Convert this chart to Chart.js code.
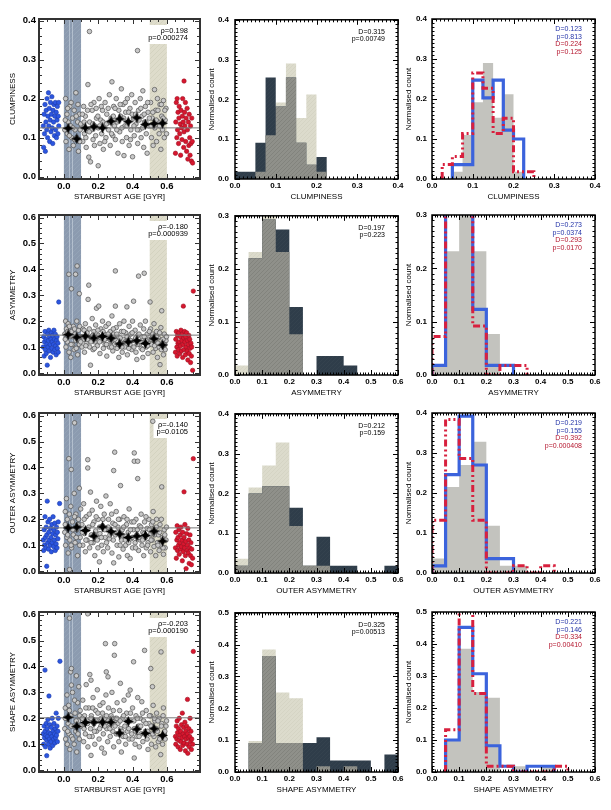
<!DOCTYPE html>
<html>
<head>
<meta charset="utf-8">
<script src="https://cdn.jsdelivr.net/npm/chart.js@4.4.0/dist/chart.umd.min.js"></script>
<style>
  body { margin: 0; background: #fff; width: 611px; height: 810px; position: relative; overflow: hidden; }
  canvas { position: absolute; }
</style>
</head>
<body>
<script>
// ---- shared axis data ----
const ageRange = [-0.145, 0.793];
const ageTicks = [0.0, 0.2, 0.4, 0.6];
const ageBins = [0.025, 0.075, 0.125, 0.175, 0.225, 0.275, 0.325, 0.375, 0.425, 0.475, 0.525, 0.575];
const youngBand = [0.0, 0.1];
const oldBand = [0.5, 0.6];
const youngLines = [0.03, 0.045];
const ticks03 = [0, 0.1, 0.2, 0.3];
const ticks04 = [0, 0.1, 0.2, 0.3, 0.4];
const ticks05 = [0, 0.1, 0.2, 0.3, 0.4, 0.5];
const ticks06 = [0, 0.1, 0.2, 0.3, 0.4, 0.5, 0.6];
const clumpEdges = [0, 0.025, 0.05, 0.075, 0.1, 0.125, 0.15, 0.175, 0.2, 0.225, 0.25];
const asymEdges = [0, 0.05, 0.1, 0.15, 0.2, 0.25, 0.3, 0.35, 0.4, 0.45, 0.5, 0.55, 0.6];

// ---- clumpiness ----
const clumpGrey = [[0.005,0.12],[0.01,0.2],[0.012,0.09],[0.018,0.16],[0.02,0.11],[0.025,0.14],[0.03,0.07],[0.035,0.18],[0.04,0.13],[0.045,0.1],[0.05,0.15],[0.055,0.08],[0.06,0.17],[0.065,0.12],[0.07,0.215],[0.075,0.1],[0.08,0.14],[0.085,0.065],[0.09,0.16],[0.095,0.12],
[0.105,0.13],[0.11,0.09],[0.115,0.18],[0.12,0.11],[0.125,0.155],[0.13,0.075],[0.14,0.236],[0.145,0.05],[0.149,0.372],[0.15,0.14],[0.155,0.038],[0.16,0.12],[0.165,0.17],[0.17,0.095],[0.175,0.19],[0.18,0.13],[0.185,0.105],[0.19,0.15],[0.2,0.028],[0.2,0.125],[0.205,0.2],[0.21,0.085],[0.215,0.145],[0.22,0.11],[0.225,0.17],[0.23,0.07],[0.235,0.135],[0.24,0.19],[0.245,0.1],[0.25,0.16],
[0.26,0.12],[0.265,0.21],[0.27,0.08],[0.275,0.15],[0.28,0.243],[0.285,0.105],[0.29,0.18],[0.295,0.13],[0.3,0.095],[0.305,0.2],[0.31,0.14],[0.315,0.06],[0.32,0.17],[0.325,0.115],[0.33,0.155],[0.335,0.225],[0.34,0.09],[0.345,0.185],[0.35,0.054],[0.355,0.13],[0.36,0.165],[0.365,0.1],[0.37,0.2],[0.375,0.14],[0.38,0.08],[0.385,0.175],[0.39,0.12],[0.395,0.21],[0.4,0.051],[0.405,0.15],[0.41,0.105],[0.415,0.19],[0.42,0.135],[0.429,0.323],[0.43,0.085],[0.435,0.17],[0.44,0.12],[0.445,0.2],[0.45,0.1],[0.455,0.155],[0.46,0.22],[0.465,0.075],[0.47,0.14],[0.475,0.18],[0.48,0.11],[0.485,0.06],[0.49,0.165],[0.495,0.13],
[0.505,0.19],[0.51,0.1],[0.515,0.15],[0.52,0.08],[0.528,0.223],[0.53,0.125],[0.535,0.17],[0.54,0.09],[0.545,0.2],[0.55,0.14],[0.555,0.11],[0.56,0.185],[0.565,0.07],[0.57,0.155],[0.575,0.12],[0.58,0.195],[0.585,0.1],[0.59,0.145],[0.595,0.175],
[0.008,0.145],[0.022,0.175],[0.032,0.105],[0.042,0.19],[0.052,0.125],[0.062,0.095],[0.072,0.155],[0.082,0.185],[0.092,0.09],[0.098,0.135],[0.108,0.16],[0.118,0.14],[0.128,0.1],[0.138,0.17],[0.148,0.115],[0.158,0.185],[0.168,0.135],[0.178,0.08],[0.188,0.175],[0.198,0.155],[0.208,0.13],[0.218,0.18],[0.228,0.14],[0.238,0.09],[0.248,0.135],[0.258,0.175],[0.268,0.14],[0.278,0.11],[0.288,0.155],[0.298,0.175],[0.308,0.12],[0.318,0.145],[0.328,0.185],[0.338,0.125],[0.348,0.15],[0.358,0.19],[0.368,0.13],[0.378,0.165],[0.388,0.095],[0.398,0.16],[0.408,0.13],[0.418,0.16],[0.428,0.12],[0.438,0.145],[0.448,0.175],[0.458,0.125],[0.468,0.16],[0.478,0.14],[0.488,0.19],[0.498,0.15],[0.508,0.13],[0.518,0.165],[0.538,0.145],[0.548,0.17],[0.558,0.13],[0.568,0.185],[0.578,0.15],[0.588,0.17],[0.598,0.11]];
const clumpBlue = [[-0.12,0.13],[-0.118,0.075],[-0.115,0.16],[-0.113,0.11],[-0.11,0.185],[-0.108,0.065],[-0.105,0.14],[-0.103,0.17],[-0.1,0.12],[-0.098,0.2],[-0.095,0.1],[-0.093,0.155],[-0.09,0.215],[-0.088,0.13],[-0.085,0.175],[-0.083,0.09],[-0.08,0.145],[-0.078,0.19],[-0.075,0.115],[-0.073,0.16],[-0.07,0.205],[-0.068,0.125],[-0.065,0.085],[-0.063,0.17],[-0.06,0.14],[-0.058,0.185],[-0.055,0.105],[-0.053,0.155],[-0.05,0.19],[-0.048,0.12],[-0.045,0.165],[-0.043,0.1],[-0.04,0.145],[-0.038,0.18],[-0.035,0.11],[-0.033,0.155],[-0.03,0.19],[-0.03,0.13]];
const clumpRed = [[0.65,0.06],[0.652,0.14],[0.655,0.19],[0.658,0.1],[0.66,0.2],[0.662,0.12],[0.665,0.165],[0.668,0.085],[0.67,0.15],[0.672,0.18],[0.675,0.11],[0.678,0.135],[0.68,0.055],[0.682,0.17],[0.685,0.125],[0.688,0.095],[0.69,0.155],[0.692,0.2],[0.695,0.14],[0.698,0.075],[0.7,0.245],[0.7,0.115],[0.703,0.165],[0.705,0.13],[0.708,0.19],[0.71,0.09],[0.712,0.15],[0.715,0.065],[0.718,0.175],[0.72,0.12],[0.722,0.045],[0.725,0.14],[0.728,0.08],[0.73,0.16],[0.733,0.1],[0.735,0.055],[0.738,0.13],[0.74,0.085],[0.743,0.04],[0.745,0.15],[0.748,0.09],[0.75,0.035]];
const clumpMedian = [0.124, 0.097, 0.125, 0.128, 0.125, 0.142, 0.148, 0.141, 0.151, 0.134, 0.136, 0.137];
const clumpMean = 0.125;
const clumpCorr = ['\u03c1=0.198', 'p=0.000274'];
const clumpDark = [0.018, 0.018, 0.091, 0.255, 0.182, 0.255, 0.091, 0.036, 0.055, 0];
const clumpBeige = [0, 0, 0.018, 0.11, 0.192, 0.29, 0.153, 0.212, 0.018, 0];
const clumpKS = ['D=0.315', 'p=0.00749'];
const clumpHistBlue = [0, 0, 0.036, 0.036, 0.247, 0.203, 0.247, 0.122, 0.1, 0];
const clumpHistRed = [0, 0.036, 0.056, 0.114, 0.265, 0.227, 0.114, 0.152, 0.018, 0.018];
const clumpKS3 = ['D=0.123', 'p=0.813', 'D=0.224', 'p=0.125'];

// ---- asymmetry ----
const asymGrey = [[0.005,0.15],[0.01,0.2],[0.012,0.1],[0.015,0.17],[0.02,0.12],[0.025,0.19],[0.029,0.381],[0.03,0.08],[0.035,0.14],[0.04,0.06],[0.044,0.325],[0.045,0.16],[0.05,0.11],[0.055,0.18],[0.06,0.09],[0.065,0.15],[0.068,0.381],[0.07,0.125],[0.075,0.2],[0.077,0.413],[0.08,0.07],[0.085,0.165],[0.09,0.306],[0.09,0.11],[0.095,0.14],
[0.105,0.1],[0.11,0.17],[0.115,0.13],[0.12,0.08],[0.125,0.19],[0.13,0.115],[0.135,0.155],[0.141,0.284],[0.145,0.339],[0.15,0.1],[0.155,0.03],[0.16,0.14],[0.165,0.21],[0.17,0.09],[0.175,0.16],[0.18,0.12],[0.185,0.185],[0.19,0.25],[0.195,0.105],[0.2,0.145],[0.203,0.258],[0.21,0.075],[0.215,0.17],[0.22,0.125],[0.225,0.2],[0.23,0.095],[0.235,0.15],[0.24,0.11],[0.245,0.18],[0.25,0.065],
[0.255,0.135],[0.26,0.19],[0.265,0.1],[0.27,0.16],[0.275,0.12],[0.28,0.22],[0.285,0.085],[0.29,0.15],[0.295,0.11],[0.3,0.394],[0.3,0.258],[0.305,0.175],[0.31,0.095],[0.315,0.14],[0.32,0.06],[0.325,0.19],[0.33,0.12],[0.335,0.16],[0.34,0.08],[0.345,0.13],[0.35,0.2],[0.355,0.1],[0.36,0.155],[0.367,0.255],[0.37,0.07],[0.375,0.135],[0.38,0.18],[0.385,0.11],[0.39,0.15],[0.395,0.09],[0.4,0.2],[0.406,0.277],[0.41,0.125],[0.415,0.165],[0.42,0.08],[0.425,0.052],[0.43,0.145],[0.435,0.374],[0.44,0.11],[0.445,0.185],[0.45,0.095],[0.455,0.14],[0.46,0.06],[0.465,0.17],[0.468,0.385],[0.47,0.12],[0.475,0.2],[0.48,0.1],[0.485,0.15],[0.49,0.075],[0.495,0.13],
[0.502,0.274],[0.505,0.17],[0.51,0.11],[0.515,0.145],[0.52,0.08],[0.525,0.19],[0.53,0.125],[0.535,0.095],[0.54,0.16],[0.545,0.06],[0.55,0.135],[0.555,0.1],[0.56,0.032],[0.565,0.175],[0.57,0.24],[0.575,0.115],[0.58,0.07],[0.585,0.15],[0.59,0.09],[0.595,0.125],
[0.008,0.13],[0.022,0.16],[0.032,0.18],[0.042,0.11],[0.052,0.14],[0.062,0.17],[0.072,0.095],[0.082,0.13],[0.092,0.18],[0.098,0.12],[0.108,0.14],[0.118,0.165],[0.128,0.105],[0.138,0.13],[0.148,0.17],[0.158,0.12],[0.168,0.145],[0.178,0.095],[0.188,0.135],[0.198,0.165],[0.208,0.12],[0.218,0.14],[0.228,0.16],[0.238,0.13],[0.248,0.11],[0.258,0.15],[0.268,0.13],[0.278,0.1],[0.288,0.17],[0.298,0.13],[0.308,0.15],[0.318,0.11],[0.328,0.135],[0.338,0.1],[0.348,0.16],[0.358,0.12],[0.368,0.14],[0.378,0.095],[0.388,0.125],[0.398,0.155],[0.408,0.1],[0.418,0.135],[0.428,0.11],[0.438,0.15],[0.448,0.12],[0.458,0.09],[0.468,0.14],[0.478,0.125],[0.488,0.105],[0.498,0.16],[0.508,0.13],[0.518,0.15],[0.528,0.105],[0.538,0.14],[0.548,0.115],[0.558,0.155],[0.568,0.09],[0.578,0.13],[0.588,0.11],[0.598,0.14]];
const asymBlue = [[-0.12,0.1],[-0.118,0.14],[-0.115,0.065],[-0.113,0.12],[-0.11,0.16],[-0.108,0.09],[-0.105,0.13],[-0.103,0.075],[-0.1,0.11],[-0.097,0.03],[-0.095,0.15],[-0.093,0.1],[-0.09,0.125],[-0.088,0.165],[-0.085,0.085],[-0.083,0.14],[-0.08,0.11],[-0.078,0.06],[-0.075,0.13],[-0.073,0.155],[-0.07,0.095],[-0.068,0.12],[-0.065,0.145],[-0.063,0.08],[-0.06,0.11],[-0.058,0.165],[-0.055,0.13],[-0.053,0.09],[-0.05,0.15],[-0.048,0.105],[-0.045,0.07],[-0.043,0.125],[-0.04,0.14],[-0.038,0.095],[-0.035,0.115],[-0.03,0.274],[-0.033,0.08]];
const asymRed = [[0.65,0.08],[0.652,0.13],[0.655,0.16],[0.658,0.1],[0.66,0.065],[0.662,0.145],[0.665,0.115],[0.668,0.09],[0.67,0.155],[0.672,0.12],[0.675,0.075],[0.678,0.14],[0.68,0.105],[0.682,0.165],[0.685,0.085],[0.688,0.125],[0.69,0.15],[0.692,0.06],[0.696,0.258],[0.695,0.11],[0.698,0.135],[0.7,0.09],[0.703,0.16],[0.705,0.12],[0.708,0.07],[0.71,0.14],[0.712,0.1],[0.715,0.155],[0.718,0.085],[0.72,0.125],[0.722,0.05],[0.725,0.11],[0.728,0.145],[0.73,0.075],[0.733,0.13],[0.735,0.095],[0.738,0.04],[0.74,0.115],[0.743,0.065],[0.745,0.1],[0.75,0.01],[0.754,0.316]];
const asymMedian = [0.148, 0.138, 0.142, 0.135, 0.141, 0.134, 0.112, 0.12, 0.125, 0.114, 0.132, 0.108];
const asymMean = 0.146;
const asymCorr = ['\u03c1=-0.180', 'p=0.000939'];
const asymDark = [0, 0.22, 0.293, 0.274, 0.128, 0, 0.036, 0.036, 0.018, 0, 0, 0];
const asymBeige = [0.018, 0.232, 0.44, 0.232, 0.077, 0, 0, 0, 0, 0, 0, 0];
const asymKS = ['D=0.197', 'p=0.223'];
const asymHistBlue = [0.018, 0.4, 0.423, 0.123, 0.018, 0.018, 0, 0, 0, 0, 0, 0];
const asymHistRed = [0.072, 0.38, 0.42, 0.092, 0, 0.018, 0.018, 0, 0, 0, 0, 0];
const asymKS3 = ['D=0.273', 'p=0.0374', 'D=0.293', 'p=0.0170'];

// ---- outer asymmetry ----
const outerGrey = [[0.005,0.15],[0.008,0.23],[0.01,0.1],[0.015,0.28],[0.018,0.13],[0.02,0.2],[0.025,0.07],[0.029,0.434],[0.03,0.17],[0.033,0.006],[0.035,0.12],[0.04,0.25],[0.043,0.392],[0.045,0.09],[0.05,0.19],[0.055,0.14],[0.06,0.3],[0.062,0.572],[0.065,0.11],[0.07,0.22],[0.075,0.16],[0.08,0.06],[0.085,0.2],[0.09,0.32],[0.095,0.13],
[0.105,0.18],[0.11,0.1],[0.115,0.26],[0.12,0.145],[0.125,0.075],[0.13,0.21],[0.135,0.12],[0.139,0.43],[0.139,0.398],[0.145,0.17],[0.15,0.09],[0.155,0.305],[0.16,0.14],[0.165,0.235],[0.17,0.11],[0.175,0.19],[0.18,0.06],[0.185,0.155],[0.19,0.27],[0.195,0.12],[0.2,0.2],[0.207,0.036],[0.21,0.145],[0.215,0.25],[0.22,0.1],[0.225,0.175],[0.23,0.075],[0.235,0.22],[0.24,0.13],[0.245,0.29],[0.25,0.16],
[0.255,0.09],[0.26,0.2],[0.265,0.125],[0.27,0.26],[0.275,0.15],[0.28,0.07],[0.285,0.185],[0.29,0.388],[0.29,0.032],[0.296,0.459],[0.3,0.14],[0.305,0.23],[0.31,0.1],[0.315,0.17],[0.32,0.055],[0.325,0.2],[0.33,0.33],[0.335,0.12],[0.34,0.16],[0.345,0.085],[0.35,0.21],[0.355,0.135],[0.36,0.1],[0.365,0.18],[0.37,0.06],[0.375,0.15],[0.38,0.24],[0.386,0.049],[0.39,0.125],[0.395,0.19],[0.4,0.09],[0.405,0.16],[0.41,0.456],[0.41,0.424],[0.415,0.11],[0.42,0.2],[0.425,0.14],[0.43,0.357],[0.43,0.424],[0.435,0.08],[0.44,0.175],[0.445,0.12],[0.45,0.22],[0.455,0.1],[0.46,0.15],[0.465,0.06],[0.47,0.19],[0.475,0.13],[0.48,0.09],[0.485,0.165],[0.49,0.11],[0.495,0.2],
[0.5,0.14],[0.505,0.075],[0.51,0.18],[0.515,0.12],[0.518,0.578],[0.52,0.23],[0.525,0.095],[0.53,0.155],[0.535,0.06],[0.54,0.2],[0.545,0.11],[0.55,0.14],[0.555,0.08],[0.56,0.18],[0.565,0.1],[0.57,0.325],[0.575,0.13],[0.58,0.065],[0.585,0.16],[0.59,0.09],[0.595,0.12],
[0.008,0.18],[0.022,0.14],[0.032,0.22],[0.042,0.1],[0.052,0.16],[0.062,0.21],[0.072,0.13],[0.082,0.18],[0.092,0.1],[0.098,0.24],[0.108,0.15],[0.118,0.2],[0.128,0.12],[0.138,0.16],[0.148,0.22],[0.158,0.11],[0.168,0.18],[0.178,0.14],[0.188,0.21],[0.198,0.09],[0.208,0.17],[0.218,0.13],[0.228,0.2],[0.238,0.16],[0.248,0.11],[0.258,0.17],[0.268,0.14],[0.278,0.22],[0.288,0.12],[0.298,0.18],[0.308,0.15],[0.318,0.2],[0.328,0.1],[0.338,0.14],[0.348,0.17],[0.358,0.12],[0.368,0.2],[0.378,0.11],[0.388,0.16],[0.398,0.13],[0.408,0.19],[0.418,0.09],[0.428,0.16],[0.438,0.13],[0.448,0.17],[0.458,0.12],[0.468,0.145],[0.478,0.21],[0.488,0.1],[0.498,0.16],[0.508,0.12],[0.518,0.19],[0.528,0.14],[0.538,0.17],[0.548,0.1],[0.558,0.15],[0.568,0.2],[0.578,0.09],[0.588,0.14],[0.598,0.17]];
const outerBlue = [[-0.12,0.12],[-0.118,0.08],[-0.115,0.16],[-0.113,0.1],[-0.11,0.21],[-0.108,0.13],[-0.105,0.09],[-0.103,0.17],[-0.1,0.019],[-0.1,0.14],[-0.097,0.27],[-0.095,0.11],[-0.093,0.19],[-0.09,0.085],[-0.088,0.15],[-0.085,0.12],[-0.083,0.2],[-0.08,0.1],[-0.078,0.165],[-0.075,0.13],[-0.073,0.075],[-0.07,0.18],[-0.068,0.11],[-0.065,0.145],[-0.063,0.21],[-0.06,0.095],[-0.058,0.16],[-0.055,0.12],[-0.053,0.185],[-0.05,0.08],[-0.048,0.14],[-0.045,0.105],[-0.043,0.17],[-0.04,0.09],[-0.038,0.15],[-0.035,0.125],[-0.033,0.19],[-0.025,0.261]];
const outerRed = [[0.65,0.09],[0.652,0.15],[0.655,0.05],[0.658,0.12],[0.66,0.175],[0.662,0.08],[0.665,0.13],[0.668,0.1],[0.67,0.16],[0.672,0.065],[0.675,0.11],[0.678,0.14],[0.68,0.085],[0.682,0.17],[0.685,0.095],[0.688,0.12],[0.69,0.04],[0.692,0.15],[0.695,0.075],[0.698,0.105],[0.7,0.306],[0.7,0.13],[0.703,0.09],[0.705,0.18],[0.708,0.06],[0.71,0.115],[0.712,0.01],[0.715,0.145],[0.718,0.08],[0.72,0.1],[0.722,0.165],[0.725,0.07],[0.728,0.12],[0.73,0.03],[0.733,0.09],[0.735,0.14],[0.738,0.06],[0.74,0.11],[0.743,0.025],[0.745,0.085],[0.75,0.05],[0.754,0.434]];
const outerMedian = [0.167, 0.17, 0.157, 0.135, 0.171, 0.153, 0.143, 0.13, 0.135, 0.138, 0.154, 0.116];
const outerMean = 0.167;
const outerCorr = ['\u03c1=-0.140', 'p=0.0105'];
const outerDark = [0.018, 0.2, 0.218, 0.218, 0.164, 0.018, 0.091, 0.018, 0.018, 0, 0, 0.018];
const outerBeige = [0.036, 0.215, 0.27, 0.328, 0.118, 0.018, 0.018, 0, 0, 0, 0, 0];
const outerKS = ['D=0.212', 'p=0.159'];
const outerHistBlue = [0.018, 0.246, 0.392, 0.27, 0.036, 0.036, 0, 0, 0, 0, 0, 0];
const outerHistRed = [0.132, 0.384, 0.286, 0.132, 0, 0, 0.018, 0, 0.018, 0, 0, 0];
const outerKS3 = ['D=0.219', 'p=0.155', 'D=0.392', 'p=0.000408'];

// ---- shape asymmetry ----
const shapeGrey = [[0.005,0.16],[0.008,0.24],[0.01,0.12],[0.015,0.2],[0.018,0.29],[0.02,0.1],[0.025,0.18],[0.028,0.25],[0.03,0.14],[0.033,0.586],[0.035,0.08],[0.039,0.379],[0.04,0.21],[0.044,0.392],[0.044,0.328],[0.045,0.13],[0.05,0.3],[0.055,0.17],[0.06,0.1],[0.065,0.22],[0.07,0.15],[0.073,0.364],[0.075,0.07],[0.08,0.26],[0.085,0.19],[0.087,0.322],[0.09,0.12],[0.095,0.23],
[0.105,0.17],[0.11,0.27],[0.115,0.11],[0.12,0.21],[0.125,0.14],[0.13,0.33],[0.135,0.19],[0.139,0.603],[0.14,0.09],[0.145,0.24],[0.151,0.369],[0.155,0.16],[0.158,0.057],[0.158,0.347],[0.16,0.21],[0.165,0.13],[0.17,0.28],[0.175,0.18],[0.18,0.1],[0.185,0.23],[0.19,0.15],[0.195,0.31],[0.2,0.19],[0.205,0.12],[0.21,0.25],[0.215,0.17],[0.22,0.085],[0.225,0.22],[0.23,0.14],[0.236,0.066],[0.24,0.2],[0.242,0.488],[0.245,0.29],[0.247,0.379],[0.25,0.16],
[0.255,0.11],[0.257,0.36],[0.26,0.24],[0.265,0.18],[0.27,0.13],[0.275,0.21],[0.28,0.3],[0.285,0.15],[0.29,0.09],[0.294,0.443],[0.296,0.488],[0.3,0.2],[0.305,0.14],[0.31,0.26],[0.315,0.18],[0.32,0.11],[0.325,0.23],[0.329,0.335],[0.33,0.16],[0.335,0.07],[0.34,0.2],[0.345,0.13],[0.35,0.27],[0.355,0.17],[0.36,0.1],[0.365,0.22],[0.37,0.15],[0.375,0.29],[0.38,0.12],[0.386,0.309],[0.39,0.19],[0.395,0.14],[0.4,0.24],[0.406,0.418],[0.41,0.047],[0.41,0.16],[0.415,0.1],[0.42,0.21],[0.425,0.13],[0.43,0.28],[0.435,0.17],[0.44,0.09],[0.445,0.2],[0.45,0.14],[0.454,0.264],[0.46,0.11],[0.465,0.19],[0.47,0.462],[0.475,0.15],[0.48,0.23],[0.485,0.12],[0.49,0.08],[0.495,0.18],
[0.5,0.14],[0.505,0.21],[0.506,0.392],[0.51,0.1],[0.515,0.17],[0.516,0.322],[0.52,0.25],[0.525,0.13],[0.53,0.19],[0.535,0.09],[0.54,0.22],[0.545,0.15],[0.55,0.11],[0.555,0.2],[0.56,0.13],[0.564,0.06],[0.566,0.456],[0.57,0.18],[0.575,0.1],[0.58,0.24],[0.585,0.14],[0.59,0.12],[0.595,0.17],
[0.008,0.2],[0.022,0.15],[0.032,0.23],[0.042,0.17],[0.052,0.12],[0.062,0.27],[0.072,0.19],[0.082,0.14],[0.092,0.21],[0.098,0.17],[0.108,0.2],[0.118,0.16],[0.128,0.24],[0.138,0.18],[0.148,0.13],[0.158,0.2],[0.168,0.24],[0.178,0.15],[0.188,0.19],[0.198,0.22],[0.208,0.16],[0.218,0.2],[0.228,0.26],[0.238,0.17],[0.248,0.21],[0.258,0.19],[0.268,0.16],[0.278,0.2],[0.288,0.23],[0.298,0.17],[0.308,0.2],[0.318,0.14],[0.328,0.19],[0.338,0.15],[0.348,0.21],[0.358,0.13],[0.368,0.19],[0.378,0.16],[0.388,0.22],[0.398,0.12],[0.408,0.19],[0.418,0.15],[0.428,0.2],[0.438,0.13],[0.448,0.17],[0.458,0.22],[0.468,0.14],[0.478,0.18],[0.488,0.15],[0.498,0.21],[0.508,0.17],[0.518,0.14],[0.528,0.2],[0.538,0.16],[0.548,0.19],[0.558,0.12],[0.568,0.17],[0.578,0.21],[0.588,0.15],[0.598,0.19]];
const shapeBlue = [[-0.12,0.14],[-0.118,0.1],[-0.115,0.17],[-0.113,0.125],[-0.11,0.386],[-0.11,0.15],[-0.108,0.09],[-0.105,0.135],[-0.103,0.18],[-0.1,0.056],[-0.1,0.115],[-0.098,0.16],[-0.095,0.13],[-0.093,0.195],[-0.09,0.1],[-0.087,0.286],[-0.088,0.145],[-0.085,0.12],[-0.083,0.175],[-0.08,0.085],[-0.078,0.14],[-0.075,0.11],[-0.073,0.165],[-0.07,0.13],[-0.068,0.2],[-0.065,0.095],[-0.063,0.15],[-0.06,0.12],[-0.058,0.18],[-0.055,0.14],[-0.053,0.105],[-0.05,0.16],[-0.048,0.125],[-0.045,0.22],[-0.043,0.135],[-0.04,0.17],[-0.038,0.11],[-0.035,0.15],[-0.033,0.2],[-0.023,0.42]];
const shapeRed = [[0.65,0.13],[0.652,0.1],[0.655,0.17],[0.658,0.12],[0.66,0.19],[0.662,0.145],[0.665,0.09],[0.668,0.16],[0.67,0.115],[0.672,0.2],[0.675,0.135],[0.678,0.08],[0.68,0.15],[0.682,0.11],[0.685,0.175],[0.688,0.125],[0.69,0.22],[0.692,0.095],[0.695,0.14],[0.698,0.165],[0.7,0.105],[0.703,0.13],[0.705,0.185],[0.708,0.075],[0.71,0.15],[0.712,0.12],[0.715,0.17],[0.718,0.1],[0.72,0.273],[0.72,0.14],[0.722,0.065],[0.725,0.125],[0.728,0.16],[0.73,0.09],[0.733,0.13],[0.735,0.2],[0.738,0.11],[0.74,0.15],[0.743,0.08],[0.745,0.12],[0.75,0.1],[0.754,0.458]];
const shapeMedian = [0.204, 0.169, 0.184, 0.185, 0.185, 0.185, 0.143, 0.188, 0.158, 0.142, 0.16, 0.134];
const shapeMean = 0.202;
const shapeCorr = ['\u03c1=-0.203', 'p=0.000190'];
const shapeDark = [0, 0.091, 0.364, 0.091, 0.091, 0.091, 0.109, 0.036, 0.036, 0.036, 0, 0.055];
const shapeBeige = [0, 0.097, 0.385, 0.25, 0.232, 0, 0.018, 0, 0.018, 0, 0, 0];
const shapeKS = ['D=0.325', 'p=0.00513'];
const shapeHistBlue = [0, 0.1, 0.452, 0.307, 0.082, 0.018, 0, 0.018, 0.018, 0, 0, 0];
const shapeHistRed = [0, 0.132, 0.57, 0.245, 0.018, 0.018, 0, 0, 0, 0.018, 0, 0];
const shapeKS3 = ['D=0.221', 'p=0.146', 'D=0.334', 'p=0.00410'];

// ---- layout ----
Chart.defaults.font.family = '"Liberation Sans", Arial, sans-serif';
Chart.defaults.color = '#000';

const PAD_T = 10, PAD_R = 8, XH = 24, PLOT_H = 160;
const rowTops = [19, 215, 413, 612];
const cols = [
  { left: 39, w: 161, yw: 39, tick: 9.5, tpad: 3, titlePad: 9 },
  { left: 235, w: 163, yw: 30, tick: 8, tpad: 6, titlePad: 3 },
  { left: 432, w: 163, yw: 27, tick: 8, tpad: 5, titlePad: 0 }
];
const BLUE_TXT = '#2434a8', RED_TXT = '#b4162e';

function makeCanvas(row, col) {
  const c = cols[col];
  const cv = document.createElement('canvas');
  const W = c.yw + c.w + PAD_R, H = PAD_T + PLOT_H + XH;
  cv.width = W; cv.height = H;
  cv.style.left = (c.left - c.yw) + 'px';
  cv.style.top = (rowTops[row] - PAD_T) + 'px';
  cv.style.width = W + 'px';
  cv.style.height = H + 'px';
  document.body.appendChild(cv);
  return cv;
}

function hatch(base, stroke, size) {
  const c = document.createElement('canvas');
  c.width = c.height = size;
  const g = c.getContext('2d');
  g.fillStyle = base; g.fillRect(0, 0, size, size);
  g.strokeStyle = stroke; g.lineWidth = 0.8;
  g.beginPath();
  g.moveTo(0, size); g.lineTo(size, 0);
  g.moveTo(-1, 1); g.lineTo(1, -1);
  g.moveTo(size - 1, size + 1); g.lineTo(size + 1, size - 1);
  g.stroke();
  return g.createPattern(c, 'repeat');
}

function starImage(size) {
  const c = document.createElement('canvas');
  c.width = c.height = size;
  const g = c.getContext('2d');
  const h = size / 2, q = size * 0.16;
  g.beginPath();
  g.moveTo(h, 0); g.lineTo(h + q, h - q); g.lineTo(size, h); g.lineTo(h + q, h + q);
  g.lineTo(h, size); g.lineTo(h - q, h + q); g.lineTo(0, h); g.lineTo(h - q, h - q);
  g.closePath();
  g.fillStyle = '#000'; g.fill();
  return c;
}

// turn bin edges + heights into a step outline
function stepPts(edges, vals, trim) {
  let i0 = 0, i1 = vals.length - 1;
  if (trim) {
    while (i0 < i1 && !vals[i0]) i0++;
    while (i1 > i0 && !vals[i1]) i1--;
  }
  const pts = [[edges[i0], 0]];
  for (let i = i0; i <= i1; i++) pts.push([edges[i], vals[i]], [edges[i + 1], vals[i]]);
  pts.push([edges[i1 + 1], 0]);
  return pts;
}

// frame with inward major/minor ticks on all four sides
Chart.register({
  id: 'frame',
  afterDraw(chart, args, o) {
    if (!o.on) return;
    const { ctx, chartArea: a, scales: { x, y } } = chart;
    ctx.save();
    ctx.strokeStyle = o.color;
    ctx.lineWidth = 1;
    const marks = (scale, step, len, horiz) => {
      const k0 = Math.ceil(scale.min / step - 1e-6), k1 = Math.floor(scale.max / step + 1e-6);
      ctx.beginPath();
      for (let k = k0; k <= k1; k++) {
        const p = Math.round(scale.getPixelForValue(k * step)) + 0.5;
        if (horiz) {
          ctx.moveTo(p, a.bottom); ctx.lineTo(p, a.bottom - len);
          ctx.moveTo(p, a.top); ctx.lineTo(p, a.top + len);
        } else {
          ctx.moveTo(a.left, p); ctx.lineTo(a.left + len, p);
          ctx.moveTo(a.right, p); ctx.lineTo(a.right - len, p);
        }
      }
      ctx.stroke();
    };
    marks(x, o.minorX, o.minLen, true);
    marks(y, o.minorY, o.minLen, false);
    marks(x, o.majorX, o.majLen, true);
    marks(y, o.majorY, o.majLen, false);
    ctx.lineWidth = o.width;
    ctx.strokeRect(a.left, a.top, a.right - a.left, a.bottom - a.top);
    ctx.restore();
  }
});

// age bands in the scatter panels
Chart.register({
  id: 'bands',
  beforeDatasetsDraw(chart, args, o) {
    if (!o.on) return;
    const { ctx, chartArea: a, scales: { x } } = chart;
    ctx.save();
    const band = (r, fill) => {
      const x0 = x.getPixelForValue(r[0]), x1 = x.getPixelForValue(r[1]);
      ctx.fillStyle = fill;
      ctx.fillRect(x0, a.top, x1 - x0, a.bottom - a.top);
    };
    band(youngBand, o.youngFill);
    band(oldBand, o.oldFill);
    ctx.strokeStyle = 'rgba(225,232,242,0.45)';
    ctx.lineWidth = 1;
    ctx.beginPath();
    for (const v of youngLines) {
      const p = Math.round(x.getPixelForValue(v)) + 0.5;
      ctx.moveTo(p, a.top); ctx.lineTo(p, a.bottom);
    }
    ctx.stroke();
    ctx.restore();
  }
});

// statistics text in the top right corner
Chart.register({
  id: 'notes',
  beforeDatasetsDraw(chart, args, o) {
    if (!o.lines || !o.box) return;
    const { ctx, chartArea: a } = chart;
    ctx.save();
    ctx.font = o.size + 'px "Liberation Sans", Arial, sans-serif';
    const w = Math.max(...o.lines.map(t => ctx.measureText(t).width));
    ctx.fillStyle = '#fff';
    const top = a.top + o.dy - 6;
    ctx.fillRect(a.right - o.dx - w - 3, top, w + 6, o.step * (o.lines.length - 1) + 12);
    ctx.restore();
  },
  afterDatasetsDraw(chart, args, o) {
    if (!o.lines) return;
    const { ctx, chartArea: a } = chart;
    ctx.save();
    ctx.font = o.size + 'px "Liberation Sans", Arial, sans-serif';
    ctx.textAlign = 'right';
    ctx.textBaseline = 'middle';
    o.lines.forEach((t, i) => {
      ctx.fillStyle = o.colors ? o.colors[i] : '#000';
      ctx.fillText(t, a.right - o.dx, a.top + o.dy + i * o.step);
    });
    ctx.restore();
  }
});

function axes(col, xr, yr, xTicks, yTicks, xTitle, yTitle) {
  const c = cols[col];
  const tickFont = { size: c.tick, weight: 'bold' };
  const base = {
    type: 'linear',
    grid: { display: false, drawTicks: false },
    border: { display: false },
  };
  return {
    x: Object.assign({}, base, {
      min: xr[0], max: xr[1],
      afterBuildTicks: s => { s.ticks = xTicks.map(v => ({ value: v })); },
      afterFit: s => { s.height = XH; },
      ticks: { font: tickFont, padding: 2, maxRotation: 0, autoSkip: false, callback: v => v.toFixed(1) },
      title: { display: true, text: xTitle, font: { size: 8, lineHeight: 1 }, padding: { top: 0, bottom: 2.5 } }
    }),
    y: Object.assign({}, base, {
      min: yr[0], max: yr[1],
      afterBuildTicks: s => { s.ticks = yTicks.map(v => ({ value: v })); },
      afterFit: s => { s.width = c.yw; },
      ticks: { font: tickFont, padding: c.tpad, autoSkip: false, callback: v => v.toFixed(1) },
      title: { display: true, text: yTitle, font: { size: 8, lineHeight: 1 }, padding: { top: c.titlePad, bottom: 0 } }
    })
  };
}

function baseOptions(col, scales, plugins) {
  return {
    responsive: false,
    animation: false,
    events: [],
    layout: { padding: { top: PAD_T, right: PAD_R, left: 0, bottom: 0 } },
    plugins: Object.assign({ legend: { display: false }, tooltip: { enabled: false } }, plugins),
    scales: scales
  };
}

const star = starImage(11);
const youngFill = hatch('#8c9bb0', '#96a4b7', 5);
const oldFill = hatch('#dedccb', '#d2d0bd', 5);
const overlapFill = hatch('#8f908a', '#7f807a', 4);
const darkFill = hatch('#2f3d4a', '#36444f', 4);
const beigeFill = hatch('#dcdbcc', '#d3d2c2', 4);

const panels = [
  { name: 'CLUMPINESS', grey: clumpGrey, blue: clumpBlue, red: clumpRed, med: clumpMedian, mean: clumpMean, corr: clumpCorr,
    ageY: [-0.006, 0.404], ageYTicks: ticks04, edges: clumpEdges, dark: clumpDark, beige: clumpBeige, ks: clumpKS,
    hBlue: clumpHistBlue, hRed: clumpHistRed, ks3: clumpKS3, hX: [0, 0.4], hXTicks: ticks04, hY: [0, 0.4], hYTicks: ticks04 },
  { name: 'ASYMMETRY', grey: asymGrey, blue: asymBlue, red: asymRed, med: asymMedian, mean: asymMean, corr: asymCorr,
    ageY: [-0.008, 0.61], ageYTicks: ticks06, edges: asymEdges, dark: asymDark, beige: asymBeige, ks: asymKS,
    hBlue: asymHistBlue, hRed: asymHistRed, ks3: asymKS3, hX: [0, 0.6], hXTicks: ticks06, hY: [0, 0.3], hYTicks: ticks03 },
  { name: 'OUTER ASYMMETRY', grey: outerGrey, blue: outerBlue, red: outerRed, med: outerMedian, mean: outerMean, corr: outerCorr,
    ageY: [-0.007, 0.61], ageYTicks: ticks06, edges: asymEdges, dark: outerDark, beige: outerBeige, ks: outerKS,
    hBlue: outerHistBlue, hRed: outerHistRed, ks3: outerKS3, hX: [0, 0.6], hXTicks: ticks06, hY: [0, 0.4], hYTicks: ticks04 },
  { name: 'SHAPE ASYMMETRY', grey: shapeGrey, blue: shapeBlue, red: shapeRed, med: shapeMedian, mean: shapeMean, corr: shapeCorr,
    ageY: [-0.007, 0.61], ageYTicks: ticks06, edges: asymEdges, dark: shapeDark, beige: shapeBeige, ks: shapeKS,
    hBlue: shapeHistBlue, hRed: shapeHistRed, ks3: shapeKS3, hX: [0, 0.6], hXTicks: ticks06, hY: [0, 0.5], hYTicks: ticks05 }
];

panels.forEach((p, row) => {
  // column 1: property against starburst age
  new Chart(makeCanvas(row, 0), {
    type: 'scatter',
    data: {
      datasets: [
        { data: p.med.map((v, i) => [ageBins[i], v]), pointStyle: star, pointRadius: 5.5, order: 0 },
        { data: [[ageRange[0], p.mean], [ageRange[1], p.mean]], showLine: true, borderColor: '#7a7a7a', borderWidth: 1, pointRadius: 0, order: 1 },
        { data: p.blue, pointRadius: 2.2, pointBackgroundColor: '#2c56e0', pointBorderColor: '#1d3ba8', pointBorderWidth: 0.6, order: 2 },
        { data: p.red, pointRadius: 2.2, pointBackgroundColor: '#d7172f', pointBorderColor: '#9c1022', pointBorderWidth: 0.6, order: 2 },
        { data: p.grey, pointRadius: 2.3, pointBackgroundColor: '#c8c8c8', pointBorderColor: '#4f4f4f', pointBorderWidth: 0.7, order: 3 }
      ]
    },
    options: baseOptions(0, axes(0, ageRange, p.ageY, ageTicks, p.ageYTicks, 'STARBURST AGE [GYR]', p.name), {
      bands: { on: true, youngFill: youngFill, oldFill: oldFill },
      notes: { lines: p.corr, box: true, dx: 12, dy: 12, step: 7, size: 7.5 },
      frame: { on: true, color: '#333', width: 2, majorX: 0.2, minorX: 0.05, majorY: 0.1, minorY: 0.02, majLen: 5, minLen: 3 }
    })
  });

  // column 2: starburst vs control distributions with overlap shaded
  const overlap = p.beige.map((b, i) => Math.min(b, p.dark[i]));
  new Chart(makeCanvas(row, 1), {
    type: 'line',
    data: {
      datasets: [
        { data: stepPts(p.edges, overlap), fill: 'origin', backgroundColor: overlapFill, borderColor: 'transparent', borderWidth: 0, pointRadius: 0, order: 0 },
        { data: stepPts(p.edges, p.dark), fill: 'origin', backgroundColor: darkFill, borderColor: 'transparent', borderWidth: 0, pointRadius: 0, order: 1 },
        { data: stepPts(p.edges, p.beige), fill: 'origin', backgroundColor: beigeFill, borderColor: 'transparent', borderWidth: 0, pointRadius: 0, order: 2 }
      ]
    },
    options: baseOptions(1, axes(1, p.hX, p.hY, p.hXTicks, p.hYTicks, p.name, 'Normalised count'), {
      notes: { lines: p.ks, dx: 13, dy: 12.5, step: 6.5, size: 7 },
      frame: { on: true, color: '#000', width: 1.5, majorX: 0.1, minorX: 0.01, majorY: 0.1, minorY: 0.01, majLen: 5, minLen: 2.5 }
    })
  });

  // column 3: comparison samples as step lines
  new Chart(makeCanvas(row, 2), {
    type: 'line',
    data: {
      datasets: [
        { data: stepPts(p.edges, p.hRed, true), borderColor: '#d8203e', borderWidth: 3, borderDash: [7, 3, 2, 3, 2, 3], borderJoinStyle: 'miter', fill: false, pointRadius: 0, order: 0 },
        { data: stepPts(p.edges, p.hBlue, true), borderColor: '#3b63dc', borderWidth: 3.2, borderJoinStyle: 'miter', fill: false, pointRadius: 0, order: 1 },
        { data: stepPts(p.edges, p.beige), fill: 'origin', backgroundColor: '#c3c3be', borderColor: 'transparent', borderWidth: 0, pointRadius: 0, order: 2 }
      ]
    },
    options: baseOptions(2, axes(2, p.hX, p.hY, p.hXTicks, p.hYTicks, p.name, 'Normalised count'), {
      notes: { lines: p.ks3, colors: [BLUE_TXT, BLUE_TXT, RED_TXT, RED_TXT], dx: 13, dy: 10, step: 7.7, size: 7 },
      frame: { on: true, color: '#000', width: 1.5, majorX: 0.1, minorX: 0.01, majorY: 0.1, minorY: 0.01, majLen: 5, minLen: 2.5 }
    })
  });
});
</script>
</body>
</html>
